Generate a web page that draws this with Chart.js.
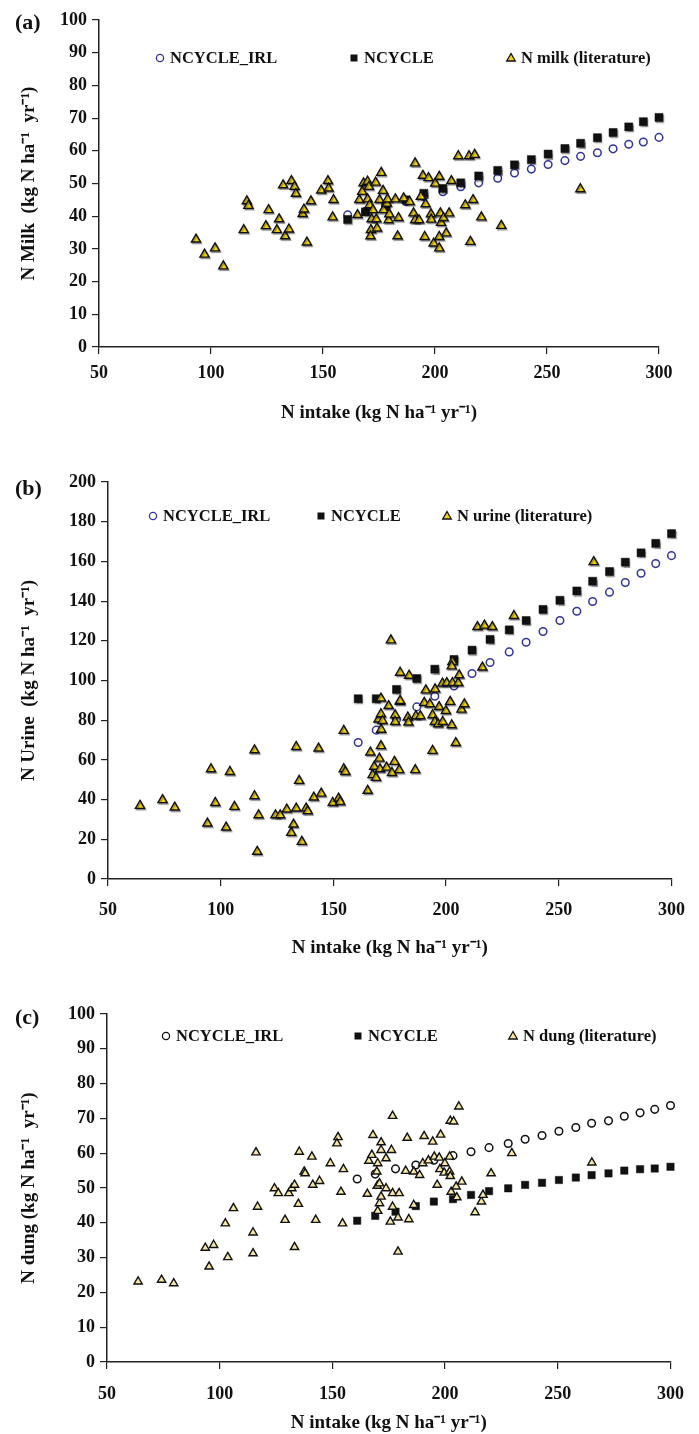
<!DOCTYPE html>
<html>
<head>
<meta charset="utf-8">
<script src="https://cdn.jsdelivr.net/npm/chart.js@4.4.1/dist/chart.umd.min.js"></script>
<style>
  html, body { margin: 0; padding: 0; background: #fff; }
  #page { position: relative; width: 699px; height: 1434px; }
  .panel { position: absolute; left: 0; width: 699px; }
</style>
</head>
<body>
<div id="page">
  <div class="panel" style="top:0px"><canvas id="chartA" width="699" height="440"></canvas></div>
  <div class="panel" style="top:440px"><canvas id="chartB" width="699" height="520"></canvas></div>
  <div class="panel" style="top:960px"><canvas id="chartC" width="699" height="474"></canvas></div>
</div>
<script>
// model runs share the same N intake values
const modelIntake = [161, 169, 178, 187, 195, 203.5, 211.5, 219.5, 228, 235.5, 243, 250.5, 258, 265, 272.5, 279.5, 286.5, 293, 300];

const milkIrl    = [40.4, 41.5, 43.0, 44.5, 46.0, 47.5, 49.0, 50.2, 51.6, 53.2, 54.4, 55.8, 57.0, 58.3, 59.4, 60.6, 62.0, 62.7, 64.1];
const milkNcycle = [39.0, 41.3, 43.2, 45.0, 47.0, 48.5, 50.2, 52.3, 54.0, 55.7, 57.3, 59.0, 60.7, 62.3, 64.0, 65.6, 67.3, 68.9, 70.2];

const urineIrl    = [68.8, 75.0, 80.4, 86.7, 92.1, 97.2, 103.5, 109.1, 114.4, 119.3, 124.7, 130.2, 134.9, 139.8, 144.5, 149.4, 154.0, 158.9, 162.9];
const urineNcycle = [90.8, 90.8, 95.5, 101.0, 105.7, 110.6, 115.3, 120.7, 125.5, 130.2, 135.8, 140.4, 145.1, 150.0, 154.9, 159.6, 164.3, 169.1, 174.0];

const dungIrl    = [52.6, 54.0, 55.5, 56.6, 58.0, 59.3, 60.4, 61.6, 62.8, 64.0, 65.1, 66.3, 67.4, 68.6, 69.3, 70.6, 71.6, 72.6, 73.7];
const dungNcycle = [40.6, 42.0, 43.2, 44.8, 46.1, 46.8, 48.0, 49.1, 49.9, 50.9, 51.5, 52.3, 53.0, 53.7, 54.2, 55.0, 55.4, 55.6, 56.1];

// literature data (a) milk
const milkLitIntake = [93.3, 97.1, 101.8, 105.5, 114.6, 116.0, 116.7, 124.5, 125.7, 129.4, 130.4, 132.2, 133.1, 134.8, 135.9, 137.3, 137.9, 140.9, 141.5, 142.8,
  144.6, 149.2, 152.2, 152.5, 154.7, 154.3, 165.4, 166.2, 167.5, 168.1, 169.9, 170.5, 169.9, 170.8, 172.3, 171.4, 171.2, 171.7, 173.5, 173.8,
  174.1, 175.2, 176.0, 176.8, 177.0, 178.5, 178.8, 179.3, 179.6, 182.3, 183.3, 183.7, 186.0, 188.7, 190.4, 191.1, 191.1, 192.9, 193.7, 194.6,
  195.4, 195.8, 197.1, 198.2, 198.3, 199.4, 200.1, 201.9, 201.9, 201.9, 202.4, 202.7, 203.8, 205.0, 206.3, 207.3, 210.4, 213.5, 215.2, 215.8,
  217.0, 217.7, 220.7, 229.6, 264.9];
const milkLit = [32.9, 28.3, 30.2, 24.7, 35.8, 44.6, 43.2, 37.0, 41.9, 35.8, 39.1, 49.5, 33.9, 36.0, 50.8, 49.0, 46.9, 40.7, 42.1, 32.0,
  44.6, 47.9, 50.8, 48.5, 45.0, 39.7, 40.4, 45.0, 47.5, 50.1, 50.6, 49.0, 45.2, 43.4, 41.9, 35.8, 33.9, 39.1, 50.3, 39.1,
  36.3, 45.0, 53.3, 47.8, 41.9, 43.9, 45.2, 38.8, 40.6, 45.2, 33.9, 39.5, 45.5, 44.4, 40.9, 56.2, 38.8, 38.8, 46.0, 52.4,
  33.7, 43.7, 51.7, 40.6, 39.0, 31.7, 50.0, 52.1, 33.7, 30.2, 40.9, 38.0, 39.5, 34.8, 40.9, 50.8, 58.4, 43.4, 58.4, 32.2,
  45.0, 58.8, 39.7, 37.1, 48.3];

// literature data (b) urine
const urineLitIntake = [64.2, 74.2, 79.6, 94.1, 95.7, 97.6, 102.4, 104.1, 106.1, 115.0, 115.0, 116.2, 116.8, 124.3, 126.4, 129.3, 131.3, 132.3, 133.5, 133.5,
  134.8, 136.0, 137.9, 138.6, 141.3, 143.4, 144.6, 149.7, 152.3, 153.0, 154.6, 154.6, 155.3, 165.2, 166.4, 167.4, 168.1, 168.9, 170.4, 170.7,
  171.1, 171.2, 170.0, 171.1, 171.8, 173.6, 174.5, 176.0, 177.1, 177.4, 177.4, 179.2, 179.5, 183.0, 183.3, 186.3, 186.6, 188.6, 190.3, 192.8,
  194.0, 194.0, 195.0, 196.5, 196.9, 198.5, 199.9, 201.8, 202.5, 204.3, 206.8, 208.1, 171.1, 179.6, 175.5, 179.6, 183.6, 191.0, 195.1, 198.4,
  200.3, 202.8, 205.4, 205.8, 202.8, 202.5, 216.1, 213.9, 217.0, 220.5, 230.1, 265.5];
const urineLit = [36.9, 39.8, 36.1, 28.0, 55.4, 38.4, 26.0, 54.0, 36.4, 64.9, 41.8, 13.8, 32.2, 32.2, 32.2, 35.1, 23.3, 27.5, 66.6, 35.6,
  49.5, 18.8, 35.6, 34.2, 41.1, 65.8, 43.1, 38.4, 40.6, 38.9, 74.7, 55.4, 54.0, 44.5, 63.8, 52.4, 56.6, 51.0, 60.7, 55.4,
  67.0, 75.3, 80.4, 83.1, 79.7, 56.2, 87.2, 53.5, 59.1, 82.6, 79.2, 54.9, 89.3, 81.4, 78.9, 54.9, 82.1, 82.1, 88.8, 88.1,
  82.6, 64.6, 79.2, 78.0, 86.7, 79.2, 84.7, 89.3, 77.5, 68.6, 85.4, 88.1, 91.0, 89.8, 120.3, 104.0, 102.5, 95.1, 95.6, 98.5,
  98.8, 98.8, 98.8, 102.7, 109.4, 107.2, 106.6, 127.0, 127.7, 127.0, 132.6, 159.7];

// literature data (c) dung
const dungLitIntake = [63.8, 74.2, 79.6, 93.6, 95.3, 97.3, 102.5, 103.6, 106.1, 114.8, 114.8, 116.1, 116.8, 124.3, 126.0, 129.0, 130.7, 132.0, 133.2, 133.2,
  134.9, 135.3, 137.5, 137.9, 140.9, 141.3, 142.6, 144.3, 149.1, 152.5, 152.0, 153.8, 154.5, 154.9, 165.5, 166.2, 167.5, 168.0, 169.7, 169.9,
  170.1, 170.1, 170.9, 170.9, 171.6, 171.6, 171.6, 173.8, 173.8, 175.7, 176.2, 176.7, 176.7, 176.7, 179.1, 179.1, 179.6, 182.5, 183.2, 183.9,
  186.1, 186.1, 188.7, 190.1, 190.7, 192.6, 194.5, 195.2, 196.5, 197.4, 197.7, 198.0, 199.6, 199.9, 202.0, 202.0, 202.3, 202.3, 202.7, 203.8,
  204.9, 205.2, 206.1, 207.4, 213.3, 216.1, 216.8, 220.4, 229.6, 265.1];
const dungLit = [23.1, 23.6, 22.6, 32.8, 27.4, 33.6, 39.8, 30.1, 44.2, 37.2, 31.2, 60.2, 44.6, 49.9, 48.5, 40.8, 48.5, 49.9, 50.9, 33.0,
  45.4, 60.4, 54.7, 54.2, 59.0, 50.9, 40.8, 52.0, 57.1, 64.6, 62.8, 48.9, 39.8, 55.4, 48.3, 57.8, 59.5, 65.2, 54.7, 50.6,
  57.1, 43.4, 51.3, 45.6, 63.1, 60.9, 47.5, 58.5, 49.9, 40.3, 60.9, 70.7, 48.5, 44.6, 41.5, 31.7, 48.5, 54.9, 64.4, 41.0,
  54.7, 45.1, 53.7, 57.1, 64.9, 57.9, 63.3, 59.0, 50.9, 58.7, 55.4, 65.3, 54.4, 57.1, 59.0, 54.7, 53.4, 69.3, 48.9, 69.1,
  50.4, 47.3, 73.4, 51.8, 43.0, 46.1, 48.0, 54.2, 60.0, 57.3];

const xTicks = [50, 100, 150, 200, 250, 300];
const intakeTitle = 'N intake (kg N ha\u207B\u00B9 yr\u207B\u00B9)';

Chart.defaults.font.family = "'Liberation Serif', 'Times New Roman', serif";
Chart.defaults.font.weight = 'bold';
Chart.defaults.color = '#111';

function pts(xs, ys) {
  return xs.map((x, i) => ({ x: x, y: ys[i] }));
}

function drawMarker(ctx, ds, x, y) {
  ctx.save();
  ctx.lineWidth = 1.3;
  ctx.strokeStyle = ds.borderColor;
  ctx.fillStyle = ds.backgroundColor;
  ctx.beginPath();
  if (ds.pointStyle === 'circle') {
    ctx.arc(x, y, 3.6, 0, Math.PI * 2);
    ctx.fill();
    ctx.stroke();
  } else if (ds.pointStyle === 'rect') {
    ctx.rect(x - 3.5, y - 3.5, 7, 7);
    ctx.fill();
  } else {
    ctx.moveTo(x, y - 4.5);
    ctx.lineTo(x + 4.3, y + 3);
    ctx.lineTo(x - 4.3, y + 3);
    ctx.closePath();
    ctx.fill();
    ctx.stroke();
  }
  ctx.restore();
}

// panel tag + legend row inside the plot area
const panelDecor = {
  id: 'panelDecor',
  beforeDatasetDraw(chart, args, opts) {
    const ds = chart.data.datasets[args.index];
    if (opts.shadow && ds.pointStyle !== 'circle') {
      const ctx = chart.ctx;
      ctx.save();
      ctx.shadowColor = 'rgba(0,0,0,0.35)';
      ctx.shadowOffsetX = 1;
      ctx.shadowOffsetY = 1.5;
      ctx.shadowBlur = 1;
    }
  },
  afterDatasetDraw(chart, args, opts) {
    const ds = chart.data.datasets[args.index];
    if (opts.shadow && ds.pointStyle !== 'circle') chart.ctx.restore();
  },
  afterDraw(chart, args, opts) {
    const ctx = chart.ctx;
    ctx.save();
    ctx.fillStyle = '#111';
    ctx.textBaseline = 'middle';
    ctx.font = "bold 22px 'Liberation Serif'";
    ctx.fillText(opts.tag, opts.tagX, opts.tagY);
    ctx.font = "bold 16.5px 'Liberation Serif'";
    opts.legend.forEach(it => {
      const ds = chart.data.datasets[it.ds];
      drawMarker(ctx, ds, it.x, opts.legendY);
      ctx.fillStyle = '#111';
      ctx.fillText(ds.label, it.x + 10, opts.legendY + 1);
    });
    ctx.restore();
  }
};

function makePanel(id, p) {
  new Chart(document.getElementById(id), {
    type: 'scatter',
    data: {
      datasets: [
        { label: p.litLabel, data: pts(p.litX, p.litY), pointStyle: 'triangle', pointRadius: p.triR,
          backgroundColor: p.triColor, borderColor: '#111', borderWidth: 1.4, order: 1, clip: false },
        { label: 'NCYCLE', data: pts(modelIntake, p.ncycle), pointStyle: 'rect', pointRadius: p.rectR,
          backgroundColor: '#111', borderColor: '#111', borderWidth: 0.5, order: 2, clip: false },
        { label: 'NCYCLE_IRL', data: pts(modelIntake, p.irl), pointStyle: 'circle', pointRadius: 3.8,
          backgroundColor: '#fff', borderColor: p.circColor, borderWidth: 1.5, order: 3, clip: false }
      ]
    },
    options: {
      responsive: false,
      animation: false,
      events: [],
      layout: { padding: { left: 0, top: p.top, right: p.right, bottom: 0 } },
      plugins: {
        legend: { display: false },
        tooltip: { enabled: false },
        panelDecor: { tag: p.tag, tagX: 15, tagY: p.tagY, legendY: p.legendY, legend: p.legend, shadow: p.shadow }
      },
      scales: {
        x: {
          type: 'linear', min: 50, max: 300,
          afterBuildTicks: s => { s.ticks = xTicks.map(v => ({ value: v })); },
          afterFit: s => { s.height = p.xAxisH; },
          ticks: { padding: p.xPad, font: { size: 18, weight: 'bold' }, color: '#111' },
          grid: { drawOnChartArea: false, tickLength: 7, color: '#222', lineWidth: 1.2 },
          border: { color: '#222', width: 1.5 },
          title: { display: true, text: intakeTitle, font: { size: 19, weight: 'bold' }, color: '#111',
                   padding: { top: 0, bottom: p.xTitlePad } }
        },
        y: {
          type: 'linear', min: 0, max: p.yMax,
          afterBuildTicks: s => { s.ticks = p.yTicks.map(v => ({ value: v })); },
          afterFit: s => { s.width = p.left; },
          ticks: { padding: 5, font: { size: 18, weight: 'bold' }, color: '#111' },
          grid: { drawOnChartArea: false, tickLength: 7, color: '#222', lineWidth: 1.2 },
          border: { color: '#222', width: 1.5 },
          title: { display: true, text: p.yTitle, font: { size: 19, weight: 'bold' }, color: '#111',
                   padding: { top: 18, bottom: 0 } }
        }
      }
    },
    plugins: [panelDecor]
  });
}

makePanel('chartA', {
  tag: '(a)', tagY: 23, top: 20, right: 40, left: 99, xAxisH: 93, xPad: 9, xTitlePad: 16,
  yMax: 100, yTicks: [0, 10, 20, 30, 40, 50, 60, 70, 80, 90, 100],
  yTitle: 'N Milk  (kg N ha\u207B\u00B9  yr\u207B\u00B9)',
  litLabel: 'N milk (literature)', litX: milkLitIntake, litY: milkLit,
  ncycle: milkNcycle, irl: milkIrl,
  triColor: '#f1d20f', triR: 5.3, rectR: 5.7, circColor: '#33349a', shadow: true,
  legendY: 58, legend: [{ ds: 2, x: 160 }, { ds: 1, x: 354 }, { ds: 0, x: 511 }]
});

makePanel('chartB', {
  tag: '(b)', tagY: 49, top: 42, right: 26, left: 108, xAxisH: 81, xPad: 14, xTitlePad: 1,
  yMax: 200, yTicks: [0, 20, 40, 60, 80, 100, 120, 140, 160, 180, 200],
  yTitle: 'N Urine  (kg N ha\u207B\u00B9  yr\u207B\u00B9)',
  litLabel: 'N urine (literature)', litX: urineLitIntake, litY: urineLit,
  ncycle: urineNcycle, irl: urineIrl,
  triColor: '#f1d20f', triR: 5.3, rectR: 5.7, circColor: '#33349a', shadow: true,
  legendY: 76, legend: [{ ds: 2, x: 153 }, { ds: 1, x: 321 }, { ds: 0, x: 447 }]
});

makePanel('chartC', {
  tag: '(c)', tagY: 58, top: 54, right: 17, left: 107, xAxisH: 72, xPad: 15, xTitlePad: 0,
  yMax: 100, yTicks: [0, 10, 20, 30, 40, 50, 60, 70, 80, 90, 100],
  yTitle: 'N dung (kg N ha\u207B\u00B9  yr\u207B\u00B9)',
  litLabel: 'N dung (literature)', litX: dungLitIntake, litY: dungLit,
  ncycle: dungNcycle, irl: dungIrl,
  triColor: '#f4e6a4', triR: 4.8, rectR: 5.2, circColor: '#111', shadow: false,
  legendY: 76, legend: [{ ds: 2, x: 166 }, { ds: 1, x: 358 }, { ds: 0, x: 513 }]
});
</script>
</body>
</html>
